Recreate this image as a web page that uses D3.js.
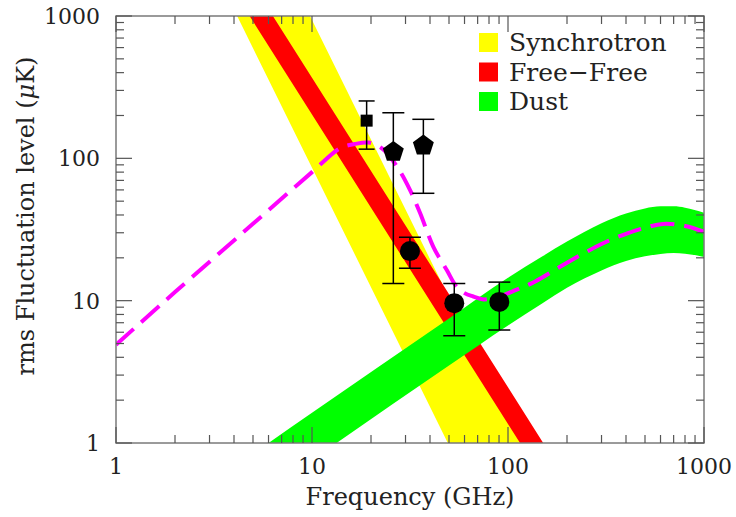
<!DOCTYPE html>
<html>
<head>
<meta charset="utf-8">
<script src="https://cdn.jsdelivr.net/npm/d3@7"></script>
<style>
  body { margin: 0; background: #fff; }
  text { font-family: "DejaVu Serif", serif; fill: #222; }
</style>
</head>
<body>
<div id="chart"></div>
<script>
// foreground emission levels vs frequency (log-log)

// synchrotron band (straight power law in log-log)
var syncFreq = [1, 10, 100, 1000];
var syncLow  = [53000, 86, 0.139, 0.000226];
var syncHigh = [578000, 937, 1.52, 0.00247];

// free-free band
var ffFreq = [1, 10, 100, 1000];
var ffLow  = [30400, 203, 1.36, 0.0091];
var ffHigh = [55000, 368, 2.46, 0.0164];

// dust band
var dustFreq = [1, 10, 50, 100, 150, 200, 300, 400, 500, 600, 700, 800, 1000];
var dustLow  = [0.086, 0.76, 3.5, 6.7, 9.6, 12.3, 16.3, 19, 20.5, 21.3, 21.6, 21.4, 20.3];
var dustHigh = [0.177, 1.63, 7.5, 14.5, 20.5, 26, 35, 41, 44.5, 46, 46, 45, 41.5];

// total foreground model (dashed)
var totFreq = [1, 2, 4.8, 10, 13.9, 16.5, 19.5, 23, 27.5, 31.6, 35.6, 41.6, 48.7, 54.7, 60, 66.5, 75, 90, 110, 137, 200, 300, 400, 500, 618, 800, 1000];
var totVal  = [4.9, 11.5, 33, 80, 117.7, 126, 129, 116, 85, 60, 41.3, 23.9, 16.4, 12.5, 11.3, 10.7, 10.2, 10.7, 11.9, 13.6, 18.5, 25, 29.5, 32.5, 34.6, 33.5, 30.5];

// measurements
var ptFreq  = [19.0, 26.0, 37.0, 31.6, 53.2, 90.3];
var ptVal   = [184, 111, 123, 22.3, 9.6, 9.8];
var ptHi    = [253, 209, 188, 27.9, 13.2, 13.5];
var ptLo    = [116, 13.2, 56.8, 16.9, 5.67, 6.22];
var ptShape = ["square", "pentagon", "pentagon", "circle", "circle", "circle"];

var legendNames  = ["Synchrotron", "Free\u2212Free", "Dust"];
var legendColors = ["#ffff00", "#ff0000", "#00ff00"];

var xTickLabels = ["1", "10", "100", "1000"];
var yTickLabels = ["1", "10", "100", "1000"];

var W = 736, H = 517;
var pL = 116, pR = 704, pT = 16, pB = 443;

var x = d3.scaleLog().domain([1, 1000]).range([pL, pR]);
var y = d3.scaleLog().domain([1, 1000]).range([pB, pT]);

var svg = d3.select("#chart").append("svg")
  .attr("width", W)
  .attr("height", H);

svg.append("defs").append("clipPath")
  .attr("id", "plotclip")
  .append("rect")
  .attr("x", pL).attr("y", pT)
  .attr("width", pR - pL).attr("height", pB - pT);

var plot = svg.append("g").attr("clip-path", "url(#plotclip)");

function band(freq, lo, hi, color, curve) {
  var rows = freq.map(function (f, i) { return {f: f, lo: lo[i], hi: hi[i]}; });
  var area = d3.area()
    .x(function (d) { return x(d.f); })
    .y0(function (d) { return y(d.lo); })
    .y1(function (d) { return y(d.hi); })
    .curve(curve);
  plot.append("path")
    .datum(rows)
    .attr("d", area)
    .attr("fill", color);
}

band(syncFreq, syncLow, syncHigh, legendColors[0], d3.curveLinear);
band(ffFreq, ffLow, ffHigh, legendColors[1], d3.curveLinear);
band(dustFreq, dustLow, dustHigh, legendColors[2], d3.curveMonotoneX);

// dashed total curve
var totRows = totFreq.map(function (f, i) { return {f: f, v: totVal[i]}; });
plot.append("path")
  .datum(totRows)
  .attr("d", d3.line()
    .x(function (d) { return x(d.f); })
    .y(function (d) { return y(d.v); })
    .curve(d3.curveCatmullRom.alpha(0.5)))
  .attr("fill", "none")
  .attr("stroke", "#ff00ff")
  .attr("stroke-width", 4)
  .attr("stroke-dasharray", "24,10");

// error bars + symbols
var pts = ptFreq.map(function (f, i) {
  return {f: f, v: ptVal[i], hi: ptHi[i], lo: ptLo[i], shape: ptShape[i]};
});

var pg = svg.append("g");
pts.forEach(function (d) {
  var cx = x(d.f);
  var cap = d.shape == "square" ? 8 : 11;
  pg.append("line")
    .attr("x1", cx).attr("x2", cx)
    .attr("y1", y(d.hi)).attr("y2", y(d.lo))
    .attr("stroke", "#000").attr("stroke-width", 1.5);
  [d.hi, d.lo].forEach(function (e) {
    pg.append("line")
      .attr("x1", cx - cap).attr("x2", cx + cap)
      .attr("y1", y(e)).attr("y2", y(e))
      .attr("stroke", "#000").attr("stroke-width", 1.5);
  });
  if (d.shape == "square") {
    pg.append("rect")
      .attr("x", cx - 6).attr("y", y(d.v) - 6)
      .attr("width", 12).attr("height", 12)
      .attr("fill", "#000");
  } else if (d.shape == "circle") {
    pg.append("circle")
      .attr("cx", cx).attr("cy", y(d.v)).attr("r", 10)
      .attr("fill", "#000");
  } else {
    var r = 11;
    var corners = d3.range(5).map(function (k) {
      var a = -Math.PI / 2 + k * 2 * Math.PI / 5;
      return [cx + r * Math.cos(a), y(d.v) + r * Math.sin(a)];
    });
    pg.append("path")
      .attr("d", d3.line()(corners) + "Z")
      .attr("fill", "#000");
  }
});

// frame and ticks (on all four sides, pointing inward)
var frame = svg.append("g");
frame.append("rect")
  .attr("x", pL).attr("y", pT)
  .attr("width", pR - pL).attr("height", pB - pT)
  .attr("fill", "none")
  .attr("stroke", "#7a7a7a")
  .attr("stroke-width", 1.5);

var allTicks = [];
for (var dec = 1; dec < 1000; dec *= 10) {
  for (var m = 1; m < 10; m++) allTicks.push(dec * m);
}
allTicks.push(1000);

function isMajor(v) {
  return Math.abs(Math.log10(v) - Math.round(Math.log10(v))) < 1e-9;
}

allTicks.forEach(function (v) {
  var len = isMajor(v) ? 16 : 8;
  var px = x(v), py = y(v);
  frame.append("line").attr("x1", px).attr("x2", px).attr("y1", pB).attr("y2", pB - len);
  frame.append("line").attr("x1", px).attr("x2", px).attr("y1", pT).attr("y2", pT + len);
  frame.append("line").attr("y1", py).attr("y2", py).attr("x1", pL).attr("x2", pL + len);
  frame.append("line").attr("y1", py).attr("y2", py).attr("x1", pR).attr("x2", pR - len);
});
frame.selectAll("line")
  .attr("stroke", "#555")
  .attr("stroke-width", 1.2);

// tick labels
svg.append("g").selectAll("text")
  .data(xTickLabels)
  .enter().append("text")
  .attr("x", function (d) { return x(+d); })
  .attr("y", pB + 31)
  .attr("text-anchor", "middle")
  .attr("font-size", 22)
  .text(function (d) { return d; });

svg.append("g").selectAll("text")
  .data(yTickLabels)
  .enter().append("text")
  .attr("x", pL - 16)
  .attr("y", function (d) { return y(+d) + 8; })
  .attr("text-anchor", "end")
  .attr("font-size", 22)
  .text(function (d) { return d; });

// axis titles
svg.append("text")
  .attr("x", (pL + pR) / 2)
  .attr("y", 505)
  .attr("text-anchor", "middle")
  .attr("font-size", 24)
  .text("Frequency (GHz)");

var yt = svg.append("text")
  .attr("transform", "translate(34,216) rotate(-90)")
  .attr("text-anchor", "middle")
  .attr("font-size", 24);
yt.append("tspan").text("rms Fluctuation level (");
yt.append("tspan").attr("font-style", "italic").text("\u03bc");
yt.append("tspan").text("K)");

// legend
var lg = svg.append("g").attr("transform", "translate(479,33)");
legendNames.forEach(function (name, i) {
  lg.append("rect")
    .attr("x", 0).attr("y", i * 29.5)
    .attr("width", 19).attr("height", 19)
    .attr("fill", legendColors[i]);
  lg.append("text")
    .attr("x", 30).attr("y", i * 29.5 + 18)
    .attr("font-size", 25)
    .text(name);
});
</script>
</body>
</html>
